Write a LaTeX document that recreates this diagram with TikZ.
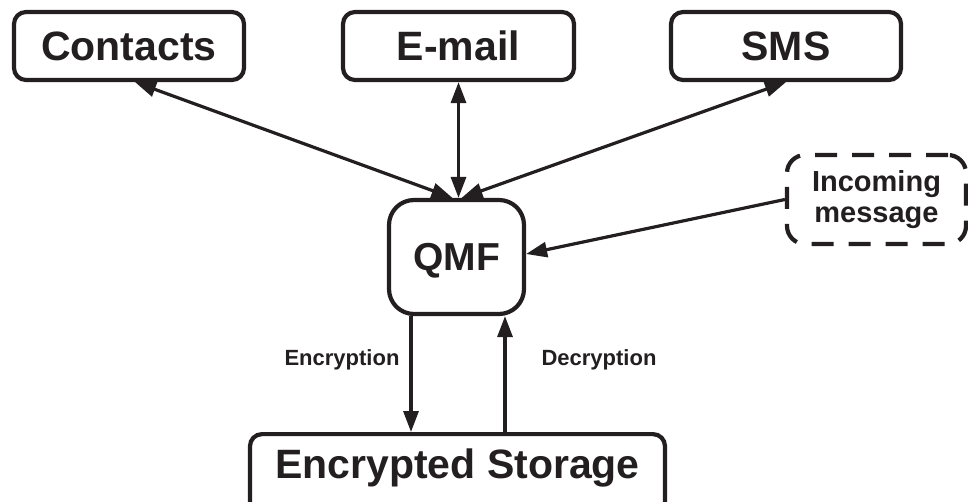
\documentclass[tikz,border=0pt]{standalone}
\usepackage{fontspec}
\setmainfont{Liberation Sans}
\usetikzlibrary{arrows.meta}
\definecolor{ink}{RGB}{35,31,32}
\begin{document}
\begin{tikzpicture}[x=1pt,y=-1pt,
  frame/.style={draw=ink, line width=4.2pt, rounded corners=12pt, text=ink, inner sep=0pt},
  box/.style={frame, font=\bfseries\fontsize{41}{48}\selectfont, text height=29pt, text depth=0pt},
  arr/.style={draw=ink, line width=3.2pt, -{Triangle[length=21pt,width=15pt]}},
  biarr/.style={draw=ink, line width=3.2pt, {Triangle[length=21pt,width=15pt]}-{Triangle[length=21pt,width=15pt]}},
  lab/.style={text=ink, font=\bfseries\fontsize{22}{26}\selectfont, inner sep=0pt, anchor=base}]
\useasboundingbox (0,0) rectangle (968,501);
\clip (0,0) rectangle (968,501);
\node[box, minimum width=230pt, minimum height=68pt] (contacts) at (129,46) {Contacts};
\node[box, minimum width=231pt, minimum height=68pt] (email) at (458.5,46) {E-mail};
\node[box, minimum width=230pt, minimum height=68pt] (sms) at (786,46) {SMS};
\node[box, rounded corners=25pt, minimum width=135pt, minimum height=114pt,
  font=\bfseries\fontsize{39}{46}\selectfont, text height=27.9pt] (qmf) at (456.5,257) {QMF};
\node[frame, dashed, dash pattern=on 22pt off 15pt, rounded corners=18pt, minimum width=179pt, minimum height=89pt,
  font=\bfseries\fontsize{29}{31}\selectfont, align=center] (incoming) at (876.5,199.5) {Incoming\\message};
\node[box, anchor=north, minimum width=415pt, text height=44pt, text depth=56pt] (storage) at (457.5,432) {Encrypted Storage};
\draw[biarr] ([xshift=6pt]contacts.south) -- ([xshift=-4pt]qmf.north);
\draw[biarr] (email.south) -- (email.south |- qmf.north);
\draw[biarr] (sms.south) -- ([xshift=5pt]qmf.north);
\draw[arr] (incoming.west) -- ([yshift=3pt]qmf.east);
\draw[arr] ([xshift=-45.5pt]qmf.south) -- ([xshift=-45.5pt]qmf.south |- storage.north);
\draw[arr] ([xshift=48.5pt]qmf.south |- storage.north) -- ([xshift=48.5pt]qmf.south);
\node[lab] (enc) at (342,365) {Encryption};
\node[lab] (dec) at (599,365) {Decryption};
\end{tikzpicture}
\end{document}
